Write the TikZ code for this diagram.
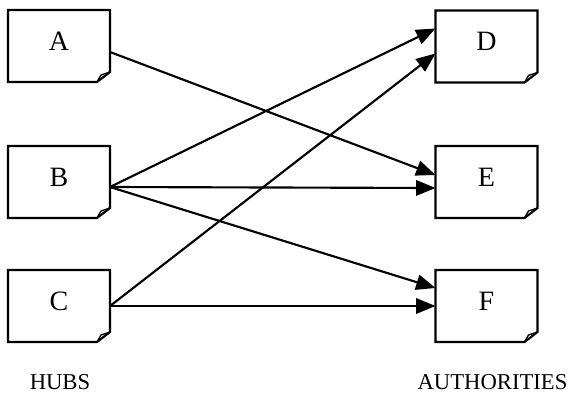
\documentclass[tikz,border=0pt]{standalone}
\usepackage{fontspec}
\setmainfont{Liberation Serif}
\usetikzlibrary{arrows.meta,calc}
\begin{document}
\begin{tikzpicture}[x=0.75pt,y=-0.75pt,
  box/.style={rectangle,draw=none,minimum width=76.5pt,minimum height=54pt,inner sep=0pt,outer sep=0pt},
  lbl/.style={inner sep=0pt,font=\fontsize{21}{25}\selectfont},
  captext/.style={inner sep=0pt,font=\fontsize{17}{20}\selectfont},
  boxline/.style={line width=1.6pt,line join=miter},
  flap/.style={line width=1pt,line join=miter},
  conn/.style={line width=1.6pt,-{Triangle[length=14.5pt,width=11.5pt]}}]
\useasboundingbox (0,0) rectangle (569,394);
\node[box] (A) at (59,46) {};
\node[box] (B) at (59,182) {};
\node[box] (C) at (59,306) {};
\node[box] (D) at (486.5,46.5) {};
\node[box] (E) at (486.5,182) {};
\node[box] (F) at (486.5,306) {};
\foreach \n in {A,B,C,D,E,F}{
  \draw[boxline] (\n.north west) -- (\n.north east) -- ($(\n.south east)+(0,-10)$) -- ($(\n.south east)+(-13,0)$) -- (\n.south west) -- cycle;
  \draw[flap] ($(\n.south east)+(-13,0)$) -- ($(\n.south east)+(-9,-7)$) -- ($(\n.south east)+(0,-10)$);
  \node[lbl] (\n lab) at ($(\n)+(0,-5)$) {\n};
}
\node[captext] (hubs) at (60,382) {HUBS};
\node[captext] (auth) at (492.5,382.5) {AUTHORITIES};
\draw[conn] ($(A.east)+(0,6)$) -- ($(E.west)+(0,-7)$);
\draw[conn] ($(B.east)+(0,5)$) -- ($(D.west)+(0,-18)$);
\draw[conn] ($(B.east)+(0,5)$) -- ($(E.west)+(0,6)$);
\draw[conn] ($(B.east)+(0,5)$) -- ($(F.west)+(0,-18)$);
\draw[conn] ($(C.east)+(0,0)$) -- ($(D.west)+(0,7)$);
\draw[conn] (C.east) -- (F.west);
\end{tikzpicture}
\end{document}
